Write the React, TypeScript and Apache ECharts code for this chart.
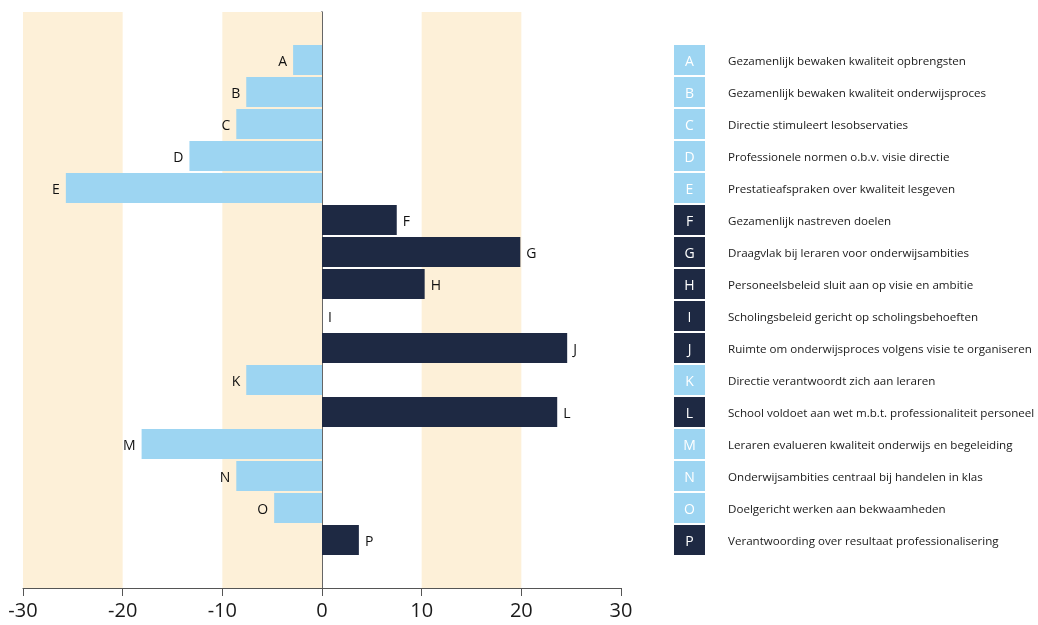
import React, { useEffect, useRef } from "react";
import * as echarts from "echarts";

const letters = ["A", "B", "C", "D", "E", "F", "G", "H", "I", "J", "K", "L", "M", "N", "O", "P"];
const values = [-2.9, -7.6, -8.6, -13.3, -25.7, 7.5, 19.9, 10.3, 0, 24.6, -7.6, 23.6, -18.1, -8.6, -4.8, 3.7];
const descriptions = [
  "Gezamenlijk bewaken kwaliteit opbrengsten",
  "Gezamenlijk bewaken kwaliteit onderwijsproces",
  "Directie stimuleert lesobservaties",
  "Professionele normen o.b.v. visie directie",
  "Prestatieafspraken over kwaliteit lesgeven",
  "Gezamenlijk nastreven doelen",
  "Draagvlak bij leraren voor onderwijsambities",
  "Personeelsbeleid sluit aan op visie en ambitie",
  "Scholingsbeleid gericht op scholingsbehoeften",
  "Ruimte om onderwijsproces volgens visie te organiseren",
  "Directie verantwoordt zich aan leraren",
  "School voldoet aan wet m.b.t. professionaliteit personeel",
  "Leraren evalueren kwaliteit onderwijs en begeleiding",
  "Onderwijsambities centraal bij handelen in klas",
  "Doelgericht werken aan bekwaamheden",
  "Verantwoording over resultaat professionalisering",
];
const bandRanges = [[-30, -20], [-10, 0], [10, 20]];
const xTicks = { min: -30, max: 30, interval: 10 };

const LIGHT = "#9dd5f2";
const DARK = "#1e2943";
const BAND = "#fdf0d8";
const FONT = "'Open Sans', 'Noto Sans', sans-serif";

export default function App() {
  const ref = useRef<HTMLDivElement>(null);
  useEffect(() => {
    document.body.style.margin = "0";
    const chart = echarts.init(ref.current!, null, { renderer: "svg" });
    const cats = ["", ...letters, ""];
    const descMap: Record<string, string> = {};
    letters.forEach((l, i) => (descMap[l] = descriptions[i]));
    const barData: any[] = [null];
    values.forEach((v) => {
      const neg = v < 0;
      barData.push({
        value: v,
        itemStyle: { color: neg ? LIGHT : DARK },
        label: { position: neg ? "left" : "right" },
      });
    });
    barData.push(null);
    const legData: any[] = [null];
    values.forEach((v) => {
      legData.push({ value: 1, itemStyle: { color: v < 0 ? LIGHT : DARK } });
    });
    legData.push(null);

    chart.setOption({
      animation: false,
      textStyle: { fontFamily: FONT },
      grid: [
        { left: 23, right: 417, top: 12, bottom: 37, containLabel: false, outerBoundsMode: "none" },
        { left: 674, width: 31, top: 12, bottom: 37, containLabel: false, outerBoundsMode: "none" },
      ],
      xAxis: [
        {
          gridIndex: 0,
          type: "value",
          min: xTicks.min,
          max: xTicks.max,
          interval: xTicks.interval,
          splitLine: { show: false },
          axisLine: { show: true, onZero: false, lineStyle: { color: "#555", width: 1 } },
          axisTick: { show: true, length: 8, lineStyle: { color: "#555" } },
          axisLabel: { fontSize: 20, color: "#1a1a1a", margin: 11, fontFamily: FONT },
        },
        { gridIndex: 1, type: "value", min: 0, max: 1, show: false },
      ],
      yAxis: [
        {
          gridIndex: 0,
          type: "category",
          data: cats,
          inverse: true,
          axisLine: { show: true, onZero: true, lineStyle: { color: "#333", width: 1.5 } },
          axisTick: { show: false },
          axisLabel: { show: false },
          splitLine: { show: false },
        },
        {
          gridIndex: 1,
          type: "category",
          data: cats,
          inverse: true,
          position: "right",
          axisLine: { show: false },
          axisTick: { show: false },
          axisLabel: {
            show: true,
            margin: 23,
            fontSize: 11.6,
            color: "#1a1a1a",
            fontFamily: FONT,
            formatter: (v: string) => descMap[v] || "",
          },
        },
      ],
      series: [
        {
          type: "line",
          xAxisIndex: 0,
          yAxisIndex: 0,
          data: [],
          silent: true,
          z: 0,
          markArea: {
            silent: true,
            itemStyle: { color: BAND },
            data: bandRanges.map(([a, b]) => [{ xAxis: a }, { xAxis: b }]),
          },
        },
        {
          type: "bar",
          xAxisIndex: 0,
          yAxisIndex: 0,
          data: barData,
          barWidth: 30,
          z: 3,
          label: {
            show: true,
            distance: 6,
            fontSize: 14,
            color: "#111",
            fontFamily: FONT,
            formatter: (p: any) => p.name,
          },
        },
        {
          type: "bar",
          xAxisIndex: 1,
          yAxisIndex: 1,
          data: legData,
          barWidth: 30,
          silent: true,
          label: {
            show: true,
            position: "inside",
            fontSize: 14,
            color: "#fff",
            fontFamily: FONT,
            formatter: (p: any) => p.name,
          },
        },
      ],
    });
    return () => chart.dispose();
  }, []);
  return <div ref={ref} style={{ position: "fixed", left: 0, top: 0, width: 1038, height: 625 }} />;
}
